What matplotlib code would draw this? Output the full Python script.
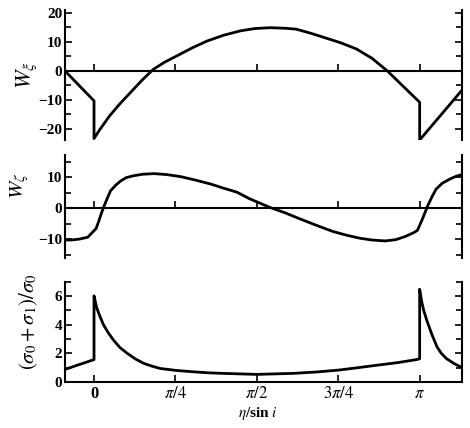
import numpy as np
import matplotlib
matplotlib.use("Agg")
import matplotlib.pyplot as plt
from matplotlib.ticker import MultipleLocator, FixedLocator

plt.rcParams['font.family'] = ['Liberation Serif', 'DejaVu Serif']
plt.rcParams['mathtext.fontset'] = 'stix'

PI = np.pi

# Panel 1: W_xi
wxi_x = [-0.28, 0.0, 0.0, 0.05, 0.15, 0.25, 0.35, 0.46, 0.57, 0.68, 0.80, 0.95,
         1.09, 1.25, 1.41, 1.55, 1.70, 1.85, 1.95, 2.10, 2.24, 2.38, 2.53, 2.68,
         2.83, PI, PI, 3.55]
wxi_y = [0.0, -10.3, -23.3, -20.5, -15.5, -11.3, -7.5, -3.3, 0.5, 3.0, 5.2, 8.0,
         10.3, 12.3, 13.8, 14.6, 14.9, 14.7, 14.4, 12.9, 11.3, 9.7, 7.6, 4.4,
         0.0, -10.8, -23.8, -6.6]

# Panel 2: W_zeta
wz_x = [-0.28, -0.22, -0.14, -0.06, 0.02, 0.045, 0.07, 0.10, 0.13, 0.16, 0.21,
        0.26, 0.31, 0.38, 0.47, 0.58, 0.70, 0.84, 0.98, 1.13, 1.25, 1.38, 1.50,
        1.69, 1.84, 1.98, 2.14, 2.30, 2.43, 2.56, 2.68, 2.81, 2.91, 3.00, 3.08,
        3.12, 3.17, 3.22, 3.26, 3.30, 3.36, 3.43, 3.49, 3.55]
wz_y = [-10.3, -10.3, -10.0, -9.4, -6.6, -4.3, -1.8, 0.9, 3.3, 5.6, 7.4,
        8.8, 9.8, 10.4, 10.9, 11.1, 10.8, 10.1, 9.0, 7.7, 6.4, 5.1, 3.0,
        0.3, -1.5, -3.4, -5.5, -7.5, -8.7, -9.7, -10.3, -10.6, -10.2, -9.2, -8.0,
        -7.2, -3.4, 0.8, 3.6, 6.1, 8.0, 9.3, 10.2, 10.8]

# Panel 3: (sigma0 + sigma1)/sigma0
sg_x = [-0.28, 0.0, 0.0, 0.025, 0.05, 0.09, 0.14, 0.19, 0.25, 0.32, 0.40, 0.48,
        0.56, 0.64, 0.80, 0.96, 1.10, 1.25, 1.57, 1.92, 2.15, 2.36, 2.55, 2.73,
        2.93, 3.11, PI, PI, 3.16, 3.18, 3.21, 3.26, 3.31, 3.35, 3.40, 3.47, 3.55]
sg_y = [0.88, 1.56, 6.0, 5.2, 4.7, 4.0, 3.4, 2.9, 2.4, 2.0, 1.6, 1.3,
        1.1, 0.94, 0.8, 0.71, 0.64, 0.6, 0.53, 0.6, 0.7, 0.83, 1.0, 1.17,
        1.35, 1.56, 1.62, 6.46, 5.65, 5.0, 4.3, 3.3, 2.43, 2.0, 1.63, 1.3, 1.0]

xticks = [0, PI / 4, PI / 2, 3 * PI / 4, PI]
xticklabels = ['0', r'$\pi/4$', r'$\pi/2$', r'$3\pi/4$', r'$\pi$']

fig = plt.figure(figsize=(4.7, 4.28), dpi=100)
X0 = 65 / 470
W = 397 / 470
ax1 = fig.add_axes([X0, 288 / 428, W, 130 / 428])
ax2 = fig.add_axes([X0, 170 / 428, W, 103 / 428])
ax3 = fig.add_axes([X0, 46 / 428, W, 100.5 / 428])

XL = (-0.28, 3.55)
lw = 2.0
for ax in (ax1, ax2, ax3):
    ax.set_xlim(*XL)
    ax.spines['top'].set_visible(False)
    for s in ('left', 'right', 'bottom'):
        ax.spines[s].set_linewidth(1.5)
    ax.xaxis.set_major_locator(FixedLocator(xticks))
    ax.tick_params(axis='both', which='both', direction='in', right=True,
                   labelsize=11, width=1.2, pad=2)
    ax.tick_params(axis='both', which='major', length=5)
    ax.tick_params(axis='both', which='minor', length=4)

ax1.plot(wxi_x, wxi_y, color='black', lw=lw)
ax1.set_ylim(-23.8, 21)
ax1.yaxis.set_major_locator(FixedLocator([-20, -10, 0, 10, 20]))
ax1.yaxis.set_minor_locator(MultipleLocator(5))
ax1.spines['bottom'].set_position(('data', 0))
ax1.tick_params(axis='x', labelbottom=False)
ax1.set_yticklabels(['−20', '−10', '0', '10', '20'], fontweight='bold')

ax2.plot(wz_x, wz_y, color='black', lw=lw)
ax2.set_ylim(-16.1, 17.1)
ax2.yaxis.set_major_locator(FixedLocator([-10, 0, 10]))
ax2.yaxis.set_minor_locator(MultipleLocator(5))
ax2.spines['bottom'].set_position(('data', 0))
ax2.tick_params(axis='x', labelbottom=False)
ax2.set_yticklabels(['−10', '0', '10'], fontweight='bold')

ax3.plot(sg_x, sg_y, color='black', lw=lw)
ax3.set_ylim(0, 7)
ax3.yaxis.set_major_locator(FixedLocator([0, 2, 4, 6]))
ax3.yaxis.set_minor_locator(MultipleLocator(1))
ax3.set_yticklabels(['0', '2', '4', '6'], fontweight='bold')
ax3.set_xticklabels(xticklabels, fontsize=12, fontweight='bold')
ax3.tick_params(axis='x', pad=3)

fig.text(27 / 470, 1 - 75 / 428, r'$W_\xi$', rotation=90, ha='center', va='center',
         fontsize=16, fontweight='bold')
fig.text(20 / 470, 1 - 186 / 428, r'$W_\zeta$', rotation=90, ha='center', va='center',
         fontsize=15, fontweight='bold')
fig.text(29 / 470, 1 - 322 / 428, r'$(\sigma_0+\sigma_1)/\sigma_0$', rotation=90,
         ha='center', va='center', fontsize=15)
fig.text(258 / 470, 1 - 414 / 428, r'$\eta$/sin $i$', ha='center', va='center',
         fontsize=11, fontweight='bold')

fig.savefig('out.png', dpi=100)
